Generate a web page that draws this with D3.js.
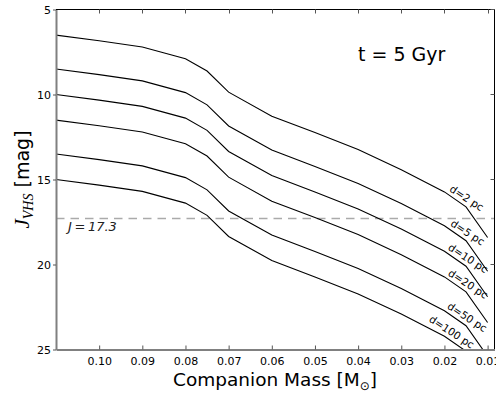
<!DOCTYPE html>
<html>
<head>
<meta charset="utf-8">
<script src="https://cdn.jsdelivr.net/npm/d3@7"></script>
<style>
  html, body { margin: 0; padding: 0; background: #fff; }
  svg { display: block; }
  text { font-family: "DejaVu Sans", sans-serif; }
</style>
</head>
<body>
<svg id="chart" width="496" height="394"></svg>
<script>
// Companion mass grid (solar masses) for the 5 Gyr isochrone
const masses = [0.11, 0.10, 0.09, 0.08, 0.075, 0.07, 0.06, 0.05, 0.04, 0.03, 0.02, 0.015, 0.01];

// Apparent J_VHS magnitude at each distance
const magD2   = [6.51, 6.84, 7.21, 7.90, 8.62, 9.86, 11.28, 12.24, 13.24, 14.42, 15.73, 16.61, 18.41];
const magD5   = [8.50, 8.83, 9.20, 9.89, 10.61, 11.85, 13.27, 14.23, 15.23, 16.41, 17.72, 18.60, 20.40];
const magD10  = [10.00, 10.33, 10.70, 11.39, 12.11, 13.35, 14.77, 15.73, 16.73, 17.91, 19.22, 20.10, 21.90];
const magD20  = [11.51, 11.84, 12.21, 12.90, 13.62, 14.86, 16.28, 17.24, 18.24, 19.42, 20.73, 21.61, 23.41];
const magD50  = [13.50, 13.83, 14.20, 14.89, 15.61, 16.85, 18.27, 19.23, 20.23, 21.41, 22.72, 23.60, 25.40];
const magD100 = [15.00, 15.33, 15.70, 16.39, 17.11, 18.35, 19.77, 20.73, 21.73, 22.91, 24.22, 25.10, 26.90];

const seriesNames = ["d=2 pc", "d=5 pc", "d=10 pc", "d=20 pc", "d=50 pc", "d=100 pc"];
const seriesMags = [magD2, magD5, magD10, magD20, magD50, magD100];
const labelMass = [0.0158, 0.0156, 0.0155, 0.0155, 0.0157, 0.0193];

const xTicks = [0.10, 0.09, 0.08, 0.07, 0.06, 0.05, 0.04, 0.03, 0.02, 0.01];
const yTicks = [5, 10, 15, 20, 25];
const limitMag = 17.3;
const ageText = "t = 5 Gyr";

const svg = d3.select("#chart");
const L = 56, R = 494.5, T = 9.5, B = 349.5;

const x = d3.scaleLinear().domain([0.11, 0.0084]).range([L, R]);
const y = d3.scaleLinear().domain([5, 25]).range([T, B]);

svg.append("defs").append("clipPath").attr("id", "plotclip")
  .append("rect").attr("x", L).attr("y", T).attr("width", R - L).attr("height", B - T);

const plot = svg.append("g").attr("clip-path", "url(#plotclip)");

// detection limit
plot.append("line")
  .attr("x1", L).attr("x2", R)
  .attr("y1", y(limitMag)).attr("y2", y(limitMag))
  .attr("stroke", "#aaaaaa").attr("stroke-width", 1.5)
  .attr("stroke-dasharray", "8.5,6");

const line = d3.line().x(d => x(d[0])).y(d => y(d[1]));

seriesMags.forEach(mags => {
  plot.append("path")
    .datum(masses.map((m, i) => [m, mags[i]]))
    .attr("d", line)
    .attr("fill", "none")
    .attr("stroke", "#000")
    .attr("stroke-width", 1.1);
});

// distance labels along each curve
const interp = (mags, m) => {
  for (let i = 0; i < masses.length - 1; i++) {
    if (m <= masses[i] && m >= masses[i + 1]) {
      const t = (masses[i] - m) / (masses[i] - masses[i + 1]);
      return mags[i] + t * (mags[i + 1] - mags[i]);
    }
  }
  return mags[mags.length - 1];
};
seriesNames.forEach((name, k) => {
  const m = labelMass[k];
  const px = x(m), py = y(interp(seriesMags[k], m));
  svg.append("text")
    .attr("transform", `translate(${px},${py}) rotate(33)`)
    .attr("x", 0).attr("y", -4)
    .attr("text-anchor", "middle")
    .attr("font-size", 10.5)
    .attr("fill", "#000")
    .text(name);
});

// frame: top/right thin black, left/bottom heavier grey
svg.append("line").attr("x1", L).attr("x2", R).attr("y1", T).attr("y2", T)
  .attr("stroke", "#000").attr("stroke-width", 1);
svg.append("line").attr("x1", R).attr("x2", R).attr("y1", T).attr("y2", B)
  .attr("stroke", "#000").attr("stroke-width", 1);

const tickColor = "#555";
// top and right inward ticks
xTicks.forEach(v => {
  svg.append("line").attr("x1", Math.round(x(v)) + 0.5).attr("x2", Math.round(x(v)) + 0.5)
    .attr("y1", T).attr("y2", T + 4).attr("stroke", tickColor);
});
yTicks.forEach(v => {
  svg.append("line").attr("x1", R).attr("x2", R - 4)
    .attr("y1", y(v)).attr("y2", y(v)).attr("stroke", tickColor);
});

// bottom axis, ticks inward
const xAxis = svg.append("g").attr("transform", `translate(0,${B})`)
  .call(d3.axisBottom(x).tickValues(xTicks).tickFormat(d3.format(".2f")).tickSizeInner(-4).tickSizeOuter(0).tickPadding(8));
xAxis.select(".domain").attr("stroke", "#808080").attr("stroke-width", 2);
xAxis.selectAll(".tick line").attr("stroke", tickColor);
xAxis.selectAll(".tick text").attr("font-size", 11).attr("fill", "#000")
  .attr("font-family", "DejaVu Sans");

// left axis, ticks outward
const yAxis = svg.append("g").attr("transform", `translate(${L},0)`)
  .call(d3.axisLeft(y).tickValues(yTicks).tickFormat(d3.format("d")).tickSizeInner(3).tickSizeOuter(0).tickPadding(2));
yAxis.select(".domain").attr("stroke", "#808080").attr("stroke-width", 2);
yAxis.selectAll(".tick line").attr("stroke", tickColor);
yAxis.selectAll(".tick text").attr("font-size", 11).attr("fill", "#000")
  .attr("font-family", "DejaVu Sans");

// J = 17.3 annotation
svg.append("text")
  .attr("x", 68).attr("y", y(limitMag) + 12)
  .attr("font-family", "Liberation Serif, serif")
  .attr("font-style", "italic")
  .attr("font-size", 13)
  .attr("fill", "#222")
  .text("J\u2009=\u200917.3");

// age annotation
svg.append("text")
  .attr("x", 358).attr("y", 61)
  .attr("font-size", 19)
  .attr("fill", "#000")
  .text(ageText);

// x axis title
const xt = svg.append("text")
  .attr("x", 275).attr("y", 386)
  .attr("text-anchor", "middle")
  .attr("font-size", 18.5)
  .attr("fill", "#000");
xt.append("tspan").text("Companion Mass [M");
xt.append("tspan").attr("font-size", 12).attr("dy", 4).text("\u2299");
xt.append("tspan").attr("dy", -4).text("]");

// y axis title
const yt = svg.append("text")
  .attr("transform", `translate(29,${(T + B) / 2}) rotate(-90)`)
  .attr("text-anchor", "middle")
  .attr("font-size", 19)
  .attr("fill", "#000");
yt.append("tspan").attr("font-family", "Liberation Serif, serif").attr("font-style", "italic").attr("font-size", 21).text("J");
yt.append("tspan").attr("font-family", "Liberation Serif, serif").attr("font-style", "italic").attr("font-size", 14).attr("dy", 4).text("VHS");
yt.append("tspan").attr("dy", -4).text(" [mag]");
</script>
</body>
</html>
